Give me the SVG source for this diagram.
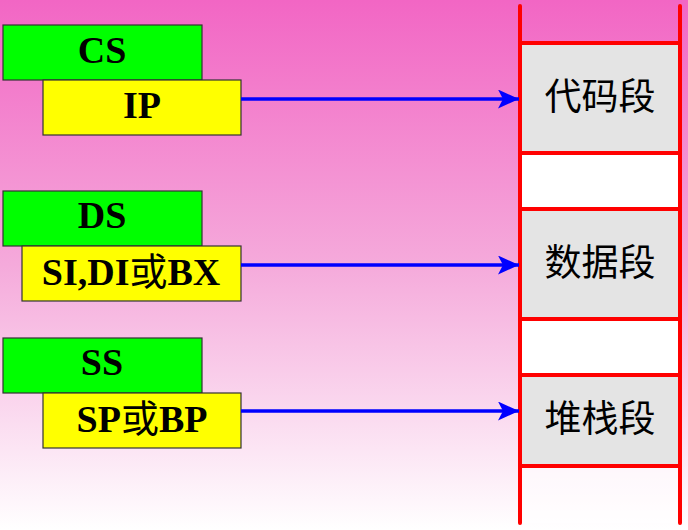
<svg xmlns="http://www.w3.org/2000/svg" width="688" height="530" viewBox="0 0 688 530">
<defs>
<linearGradient id="bg" x1="0" y1="0" x2="0" y2="1">
<stop offset="0" stop-color="#f266c4"/>
<stop offset="0.5" stop-color="#f5aadb"/>
<stop offset="1" stop-color="#ffffff"/>
</linearGradient>
<marker id="ah" markerUnits="userSpaceOnUse" markerWidth="21" markerHeight="19" refX="21" refY="9.5" orient="auto">
<path d="M0,0 L21,9.5 L0,19 L5,9.5 Z" fill="#0000ff"/>
</marker>
<style>
.seg{fill:#00ff00;stroke:#333;stroke-width:1.2}
.off{fill:#ffff00;stroke:#333;stroke-width:1.2}
.reg{font-family:"Liberation Serif","Noto Sans CJK SC",serif;font-weight:bold;font-size:38px;text-anchor:middle;fill:#000}
.cj{font-weight:normal}
.mem{font-family:"Noto Sans CJK SC",serif;font-size:37px;text-anchor:middle;fill:#000}
.red{stroke:#ff0000;stroke-width:4;stroke-linecap:round;fill:none}
.conn{stroke:#0000ff;stroke-width:3.5;fill:none}
.blk{fill:#e4e4e4}
.gap{fill:#ffffff}
</style>
</defs>
<rect width="688" height="530" fill="url(#bg)"/>
<g id="memory">
<rect class="blk" x="520" y="43" width="160" height="110"/>
<rect class="gap" x="520" y="153" width="160" height="56"/>
<rect class="blk" x="520" y="209" width="160" height="110"/>
<rect class="gap" x="520" y="319" width="160" height="56"/>
<rect class="blk" x="520" y="375" width="160" height="91"/>
<rect class="gap" x="520" y="466" width="160" height="57" opacity="0.6"/>
<line class="red" x1="520" y1="6" x2="520" y2="523"/>
<line class="red" x1="680" y1="6" x2="680" y2="523"/>
<line class="red" x1="520" y1="43" x2="680" y2="43"/>
<line class="red" x1="520" y1="153" x2="680" y2="153"/>
<line class="red" x1="520" y1="209" x2="680" y2="209"/>
<line class="red" x1="520" y1="319" x2="680" y2="319"/>
<line class="red" x1="520" y1="375" x2="680" y2="375"/>
<line class="red" x1="520" y1="466" x2="680" y2="466"/>
</g>
<g id="code-seg"><text class="mem" x="600" y="110">代码段</text></g>
<g id="data-seg"><text class="mem" x="600" y="276">数据段</text></g>
<g id="stack-seg"><text class="mem" x="600" y="432">堆栈段</text></g>
<g id="cs"><rect class="seg" x="3" y="25" width="199" height="55"/><text class="reg" x="102" y="63">CS</text></g>
<g id="ip"><rect class="off" x="43" y="80" width="198" height="55"/><text class="reg" x="142" y="118">IP</text></g>
<g id="ds"><rect class="seg" x="3" y="191" width="199" height="55"/><text class="reg" x="102" y="228">DS</text></g>
<g id="si"><rect class="off" x="22" y="246" width="219" height="55"/><text class="reg" x="131" y="285">SI,DI<tspan class="cj">或</tspan>BX</text></g>
<g id="ss"><rect class="seg" x="3" y="338" width="199" height="55"/><text class="reg" x="102" y="375">SS</text></g>
<g id="sp"><rect class="off" x="43" y="393" width="198" height="55"/><text class="reg" x="142" y="432">SP<tspan class="cj">或</tspan>BP</text></g>
<g id="connectors">
<line class="conn" x1="241" y1="99" x2="519" y2="99" marker-end="url(#ah)"/>
<line class="conn" x1="241" y1="265" x2="519" y2="265" marker-end="url(#ah)"/>
<line class="conn" x1="241" y1="411" x2="519" y2="411" marker-end="url(#ah)"/>
</g>
</svg>
